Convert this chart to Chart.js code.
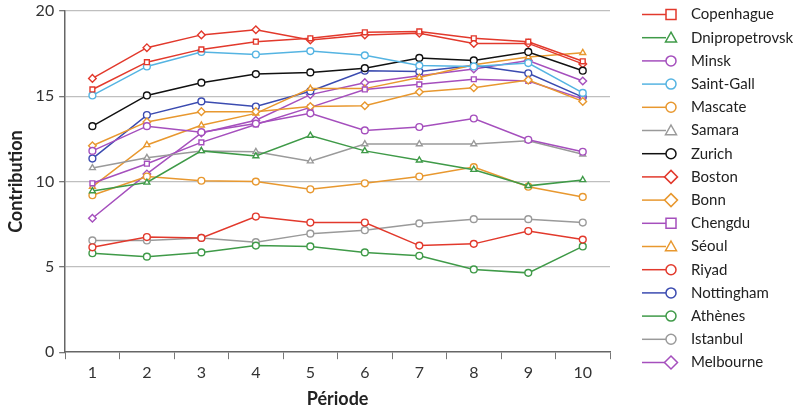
<!DOCTYPE html>
<html>
<head>
<meta charset="utf-8">
<script src="https://cdn.jsdelivr.net/npm/chart.js@4"></script>
<style>
html, body { margin: 0; padding: 0; background: #fff; }
#wrap { width: 809px; height: 414px; }
</style>
</head>
<body>
<div id="wrap"><canvas id="contribChart" width="809" height="414"></canvas></div>
<script>
// périodes
const periods = ['1', '2', '3', '4', '5', '6', '7', '8', '9', '10'];
const yTicks = [0, 5, 10, 15, 20];

// contributions moyennes par ville
const copenhague = [15.4, 17.0, 17.75, 18.2, 18.4, 18.75, 18.8, 18.4, 18.2, 17.05];
const dnipropetrovsk = [9.45, 9.95, 11.8, 11.5, 12.7, 11.8, 11.25, 10.7, 9.75, 10.1];
const minsk = [11.8, 13.25, 12.9, 13.4, 14.0, 13.0, 13.2, 13.7, 12.45, 11.75];
const saintGall = [15.05, 16.75, 17.6, 17.45, 17.65, 17.4, 16.8, 16.75, 16.95, 15.2];
const mascate = [9.2, 10.3, 10.05, 10.0, 9.55, 9.9, 10.3, 10.85, 9.7, 9.1];
const samara = [10.8, 11.4, 11.8, 11.75, 11.2, 12.2, 12.2, 12.2, 12.4, 11.6];
const zurich = [13.25, 15.05, 15.8, 16.3, 16.4, 16.65, 17.25, 17.1, 17.6, 16.5];
const boston = [16.05, 17.85, 18.6, 18.9, 18.3, 18.6, 18.7, 18.1, 18.1, 16.9];
const bonn = [12.1, 13.5, 14.1, 14.1, 14.4, 14.45, 15.25, 15.5, 15.95, 14.7];
const chengdu = [9.9, 11.05, 12.3, 13.35, 14.35, 15.4, 15.7, 16.0, 15.9, 14.85];
const seoul = [9.7, 12.15, 13.3, 14.0, 15.45, 15.45, 16.1, 16.85, 17.3, 17.55];
const riyad = [6.15, 6.75, 6.7, 7.95, 7.6, 7.6, 6.25, 6.35, 7.1, 6.6];
const nottingham = [11.35, 13.9, 14.7, 14.4, 15.3, 16.5, 16.45, 16.8, 16.35, 14.95];
const athenes = [5.8, 5.6, 5.85, 6.25, 6.2, 5.85, 5.65, 4.85, 4.65, 6.2];
const istanbul = [6.55, 6.55, 6.7, 6.45, 6.95, 7.15, 7.55, 7.8, 7.8, 7.6];
const melbourne = [7.85, 10.45, 12.85, 13.6, 15.1, 15.8, 16.2, 16.6, 17.1, 15.9];

const cities = ['Copenhague', 'Dnipropetrovsk', 'Minsk', 'Saint-Gall', 'Mascate', 'Samara', 'Zurich', 'Boston',
  'Bonn', 'Chengdu', 'Séoul', 'Riyad', 'Nottingham', 'Athènes', 'Istanbul', 'Melbourne'];
const values = [copenhague, dnipropetrovsk, minsk, saintGall, mascate, samara, zurich, boston,
  bonn, chengdu, seoul, riyad, nottingham, athenes, istanbul, melbourne];

const RED = '#e2392c', GREEN = '#3f9a48', PURPLE = '#a54fbd', SKY = '#55b4e2',
  ORANGE = '#e8982f', GREY = '#9a9a9a', BLACK = '#111111', BLUE = '#3b4bb0';
const colors = [RED, GREEN, PURPLE, SKY, ORANGE, GREY, BLACK, RED,
  ORANGE, PURPLE, ORANGE, RED, BLUE, GREEN, GREY, PURPLE];
const styles = ['rect', 'triangle', 'circle', 'circle', 'circle', 'triangle', 'circle', 'rectRot',
  'rectRot', 'rect', 'triangle', 'circle', 'circle', 'circle', 'circle', 'rectRot'];

const datasets = cities.map((name, i) => ({
  label: name,
  data: values[i],
  borderColor: colors[i],
  backgroundColor: '#ffffff',
  pointBorderColor: colors[i],
  pointBackgroundColor: '#ffffff',
  pointStyle: styles[i],
  pointRadius: styles[i] === 'rectRot' ? 3.8 : 3.4,
  pointBorderWidth: 1.4,
  borderWidth: 1.5,
  fill: false,
  tension: 0
}));

// légende à droite : trait + symbole
function drawMarker(ctx, style, x, y, r) {
  ctx.beginPath();
  if (style === 'circle') {
    ctx.arc(x, y, r, 0, Math.PI * 2);
  } else if (style === 'rect') {
    ctx.rect(x - r, y - r, r * 2, r * 2);
  } else if (style === 'triangle') {
    ctx.moveTo(x, y - r * 1.1);
    ctx.lineTo(x + r * 1.1, y + r * 0.85);
    ctx.lineTo(x - r * 1.1, y + r * 0.85);
    ctx.closePath();
  } else {
    ctx.moveTo(x, y - r * 1.3);
    ctx.lineTo(x + r * 1.3, y);
    ctx.lineTo(x, y + r * 1.3);
    ctx.lineTo(x - r * 1.3, y);
    ctx.closePath();
  }
  ctx.fill();
  ctx.stroke();
}

const sideLegend = {
  id: 'sideLegend',
  afterDraw(chart) {
    const ctx = chart.ctx;
    ctx.save();
    ctx.font = '15px Lato, "Noto Sans", sans-serif';
    ctx.textBaseline = 'middle';
    ctx.textAlign = 'left';
    cities.forEach((name, i) => {
      const y = 14.5 + i * 23.2;
      ctx.strokeStyle = colors[i];
      ctx.lineWidth = 1.5;
      ctx.beginPath();
      ctx.moveTo(642, y);
      ctx.lineTo(666, y);
      ctx.stroke();
      ctx.fillStyle = '#ffffff';
      drawMarker(ctx, styles[i], 671, y, 5);
      ctx.fillStyle = '#222222';
      ctx.fillText(name, 691, y);
    });
    ctx.restore();
  }
};

new Chart(document.getElementById('contribChart'), {
  type: 'line',
  data: { labels: periods, datasets: datasets },
  plugins: [sideLegend],
  options: {
    responsive: false,
    animation: false,
    layout: { padding: { left: 1, right: 199, top: 0, bottom: 0 } },
    plugins: {
      legend: { display: false },
      tooltip: { enabled: false }
    },
    scales: {
      x: {
        offset: true,
        grid: { display: true, drawOnChartArea: false, offset: true, tickLength: 7, color: '#777777' },
        border: { color: '#666666', width: 1.5 },
        ticks: { color: '#333333', font: { size: 16, family: 'Lato' }, padding: 4 },
        title: { display: true, text: 'Période', color: '#222222', font: { size: 18, weight: 'bold', family: 'Lato' }, padding: { top: 2 } }
      },
      y: {
        min: 0,
        max: 20,
        afterBuildTicks: axis => { axis.ticks = yTicks.map(v => ({ value: v })); },
        afterFit: axis => { axis.paddingTop = 11; },
        grid: { color: c => c.tick.value === 0 ? 'rgba(0,0,0,0)' : '#bfbfbf', lineWidth: 1.3, tickLength: 6, tickColor: '#777777' },
        border: { color: '#666666', width: 1.5 },
        ticks: { color: '#333333', font: { size: 16, family: 'Lato' }, padding: 5 },
        title: { display: true, text: 'Contribution', color: '#222222', font: { size: 18, weight: 'bold', family: 'Lato' }, padding: { bottom: 4 } }
      }
    }
  }
});
</script>
</body>
</html>
